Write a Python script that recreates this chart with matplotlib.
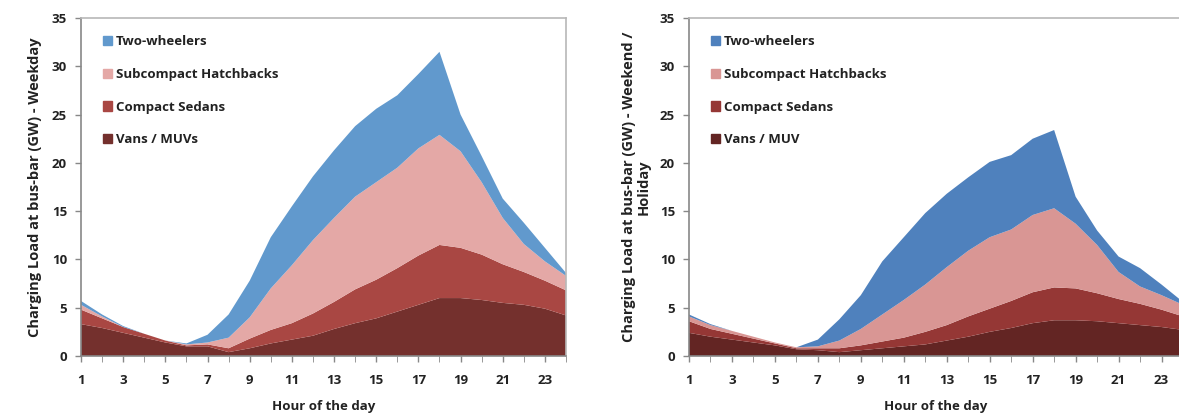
import matplotlib.pyplot as plt
from matplotlib.patches import Patch

plt.rcParams['font.family'] = ['Open Sans', 'DejaVu Sans']
plt.rcParams['font.weight'] = 'bold'
plt.rcParams['axes.labelweight'] = 'bold'

hours = list(range(1, 25))
categories = ['Vans / MUVs', 'Compact Sedans', 'Subcompact Hatchbacks', 'Two-wheelers']
categories_we = ['Vans / MUV', 'Compact Sedans', 'Subcompact Hatchbacks', 'Two-wheelers']

# weekday (GW)
wd_vans = [3.3, 2.9, 2.4, 1.9, 1.4, 1.0, 1.0, 0.4, 0.8, 1.3, 1.7, 2.1,
           2.8, 3.4, 3.9, 4.6, 5.3, 6.0, 6.0, 5.8, 5.5, 5.3, 4.9, 4.2]
wd_compact = [1.5, 1.0, 0.6, 0.4, 0.2, 0.1, 0.2, 0.4, 1.0, 1.4, 1.7, 2.3,
              2.8, 3.5, 4.0, 4.5, 5.1, 5.5, 5.2, 4.7, 4.0, 3.4, 2.9, 2.6]
wd_subcompact = [0.5, 0.2, 0.0, 0.0, 0.0, 0.1, 0.2, 1.1, 2.2, 4.3, 6.0, 7.6,
                 8.7, 9.6, 10.1, 10.4, 11.1, 11.4, 10.0, 7.5, 4.8, 2.9, 2.0, 1.5]
wd_two = [0.4, 0.2, 0.1, 0.0, 0.0, 0.1, 0.8, 2.4, 3.8, 5.3, 6.1, 6.6,
          7.0, 7.3, 7.6, 7.5, 7.7, 8.6, 3.8, 2.7, 2.0, 2.2, 1.4, 0.3]

# weekend / holiday (GW)
we_vans = [2.4, 2.0, 1.7, 1.4, 1.1, 0.7, 0.6, 0.4, 0.6, 0.8, 1.0, 1.2,
           1.6, 2.0, 2.5, 2.9, 3.4, 3.7, 3.7, 3.6, 3.4, 3.2, 3.0, 2.7]
we_compact = [1.2, 0.8, 0.6, 0.4, 0.2, 0.1, 0.2, 0.4, 0.5, 0.7, 0.9, 1.3,
              1.6, 2.1, 2.4, 2.8, 3.2, 3.4, 3.3, 2.9, 2.5, 2.2, 1.8, 1.4]
we_subcompact = [0.5, 0.4, 0.3, 0.2, 0.1, 0.1, 0.2, 0.8, 1.7, 2.8, 3.9, 4.9,
                 6.0, 6.8, 7.4, 7.4, 8.0, 8.2, 6.7, 5.0, 2.8, 1.8, 1.5, 1.2]
we_two = [0.2, 0.1, 0.0, 0.0, 0.0, 0.0, 0.7, 2.2, 3.5, 5.5, 6.5, 7.4,
          7.6, 7.6, 7.8, 7.7, 7.9, 8.1, 2.8, 1.5, 1.6, 1.9, 1.1, 0.3]

wd_colors = ['#74302d', '#a94743', '#e4a8a6', '#6199cd']
we_colors = ['#632523', '#953735', '#d99694', '#4f81bd']

xticks = list(range(1, 25, 2))
yticks = list(range(0, 36, 5))

fig = plt.figure(figsize=(11.79, 4.19), dpi=100)
ax1 = fig.add_axes([81 / 1179, 1 - 356 / 419, 485 / 1179, 338 / 419])
ax2 = fig.add_axes([689 / 1179, 1 - 356 / 419, 494 / 1179, 338 / 419])


def draw(ax, series, colors, labels, ylabel):
    ax.stackplot(hours, *series, colors=colors, linewidth=0)
    ax.set_xlim(1, 24)
    ax.set_ylim(0, 35)
    ax.set_xticks(xticks)
    ax.set_xticks(hours, minor=True)
    ax.set_yticks(yticks)
    ax.tick_params(axis='both', labelsize=9.5, colors='#888888', labelcolor='#222222',
                   direction='out', length=4, width=1)
    ax.tick_params(axis='x', which='minor', length=4, colors='#888888')
    ax.tick_params(axis='x', pad=9)
    ax.tick_params(axis='y', pad=6)
    for lbl in ax.get_xticklabels() + ax.get_yticklabels():
        lbl.set_fontweight('bold')
    for s in ['left', 'bottom']:
        ax.spines[s].set_color('#888888')
        ax.spines[s].set_linewidth(1.2)
    for s in ['top', 'right']:
        ax.spines[s].set_color('#b8b8b8')
        ax.spines[s].set_linewidth(1.2)
    ax.set_xlabel('Hour of the day', fontsize=9.5, fontweight='bold',
                  color='#222222', labelpad=9)
    ax.set_ylabel(ylabel, fontsize=10.5, fontweight='bold', color='#222222',
                  labelpad=7, linespacing=1.0)
    handles = [Patch(color=c, label=l) for c, l in zip(colors, labels)][::-1]
    ax.legend(handles=handles, loc='upper left', bbox_to_anchor=(0.02, 0.985),
              frameon=False, prop={'size': 9.5, 'weight': 'bold'},
              handlelength=0.7, handleheight=0.7,
              handletextpad=0.3, labelspacing=1.5, labelcolor='#222222')


draw(ax1, [wd_vans, wd_compact, wd_subcompact, wd_two], wd_colors, categories,
     'Charging Load at bus-bar (GW) - Weekday')
draw(ax2, [we_vans, we_compact, we_subcompact, we_two], we_colors, categories_we,
     'Charging Load at bus-bar (GW) - Weekend /\nHoliday')

fig.savefig('out.png', dpi=100)
